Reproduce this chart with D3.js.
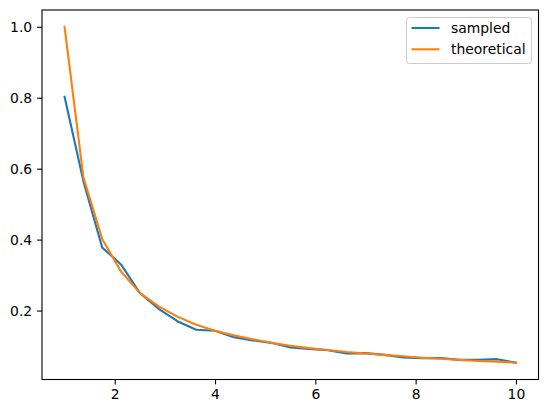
<!DOCTYPE html>
<html><head><meta charset="utf-8">
<script src="https://cdn.jsdelivr.net/npm/d3@7"></script>
<style>body{margin:0;background:#fff;} svg{display:block;}</style>
</head><body>
<svg id="c" width="547" height="413"></svg>
<script>
const xValues = [1,1.375,1.75,2.125,2.5,2.875,3.25,3.625,4,4.375,4.75,5.125,5.5,5.875,6.25,6.625,7,7.375,7.75,8.125,8.5,8.875,9.25,9.625,10];
const sampled = [0.803,0.565,0.378,0.33,0.25,0.205,0.17,0.146,0.143,0.125,0.116,0.109,0.096,0.092,0.088,0.079,0.080,0.075,0.068,0.066,0.066,0.061,0.061,0.063,0.053];
const theoretical = [1.0,0.576,0.402,0.31,0.25,0.212,0.183,0.160,0.143,0.130,0.119,0.109,0.101,0.094,0.089,0.083,0.079,0.075,0.071,0.067,0.064,0.061,0.058,0.056,0.053];
const seriesNames = ["sampled","theoretical"];
const colors = ["#1f77b4","#ff7f0e"];
const xTicks = [2,4,6,8,10];
const yTicks = [0.2,0.4,0.6,0.8,1.0];

const svg = d3.select("#c");
const L=42, R=538.5, T=10, B=379.5;
const xr = [1,10], yAll = sampled.concat(theoretical);
const ymin = d3.min(yAll), ymax = d3.max(yAll);
const x = d3.scaleLinear().domain([xr[0]-0.05*(xr[1]-xr[0]), xr[1]+0.05*(xr[1]-xr[0])]).range([L,R]);
const y = d3.scaleLinear().domain([ymin-0.05*(ymax-ymin), ymax+0.05*(ymax-ymin)]).range([B,T]);
const font = "DejaVu Sans, sans-serif";

const xa = svg.append("g").attr("transform",`translate(0,${B})`)
  .call(d3.axisBottom(x).tickValues(xTicks).tickFormat(d3.format("d")).tickSize(4.9).tickPadding(4.9));
const ya = svg.append("g").attr("transform",`translate(${L},0)`)
  .call(d3.axisLeft(y).tickValues(yTicks).tickFormat(d3.format(".1f")).tickSize(4.9).tickPadding(4.9));
[xa,ya].forEach(a=>{
  a.select(".domain").remove();
  a.selectAll("line").attr("stroke","#000").attr("stroke-width",1.1);
  a.selectAll("text").attr("font-family",font).attr("font-size","13.9px").attr("fill","#000");
});

const series = [sampled, theoretical];
const line = d3.line().x((d,i)=>x(xValues[i])).y(d=>y(d));
series.forEach((s,k)=>{
  svg.append("path").datum(s).attr("d",line).attr("fill","none")
    .attr("stroke",colors[k]).attr("stroke-width",2.1).attr("stroke-linejoin","round").attr("stroke-linecap","square");
});

svg.append("rect").attr("x",L).attr("y",T).attr("width",R-L).attr("height",B-T)
  .attr("fill","none").attr("stroke","#000").attr("stroke-width",1.1);

// legend
const lg = svg.append("g");
lg.append("rect").attr("x",406.5).attr("y",17.5).attr("width",125).attr("height",46).attr("rx",3)
  .attr("fill","#fff").attr("fill-opacity",0.8).attr("stroke","#cccccc").attr("stroke-width",1);
seriesNames.forEach((n,k)=>{
  const yy = 28 + k*21.3;
  lg.append("line").attr("x1",411.5).attr("x2",439.5).attr("y1",yy).attr("y2",yy)
    .attr("stroke",colors[k]).attr("stroke-width",2.1);
  lg.append("text").attr("x",451).attr("y",yy).attr("dy","0.36em").text(n)
    .attr("font-family",font).attr("font-size","13.9px").attr("fill","#000");
});
</script>
</body></html>
